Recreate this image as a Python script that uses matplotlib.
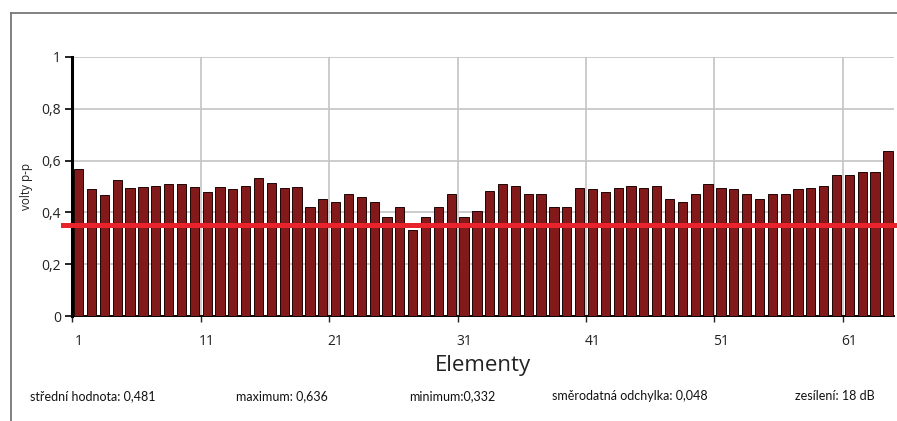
import numpy as np
import matplotlib
matplotlib.use('Agg')
import matplotlib.pyplot as plt
from matplotlib.ticker import FixedLocator, FuncFormatter

# napětí na jednotlivých elementech sondy (volty p-p)
elements = np.arange(1, 65)
voltage = [
    0.566, 0.489, 0.466, 0.526, 0.493, 0.498, 0.503, 0.511, 0.511, 0.498,
    0.479, 0.498, 0.489, 0.503, 0.534, 0.515, 0.493, 0.498, 0.422, 0.453,
    0.441, 0.470, 0.459, 0.441, 0.383, 0.422, 0.332, 0.383, 0.422, 0.470,
    0.383, 0.405, 0.481, 0.511, 0.503, 0.470, 0.470, 0.422, 0.422, 0.493,
    0.489, 0.477, 0.493, 0.503, 0.493, 0.502, 0.453, 0.441, 0.470, 0.511,
    0.493, 0.489, 0.470, 0.453, 0.470, 0.470, 0.489, 0.493, 0.503, 0.546,
    0.546, 0.556, 0.556, 0.636,
]
threshold = 0.353

yticks = [0, 0.2, 0.4, 0.6, 0.8, 1.0]
xtick_labels = [1, 11, 21, 31, 41, 51, 61]
stats = [
    'střední hodnota: 0,481',
    'maximum: 0,636',
    'minimum:0,332',
    'směrodatná odchylka: 0,048',
    'zesílení: 18 dB',
]
stats_x = [30, 236, 409, 552, 795]

plt.rcParams['font.family'] = ['Open Sans', 'DejaVu Sans']

fig = plt.figure(figsize=(8.97, 4.21), dpi=100)
ax = fig.add_axes([72.3 / 897, 1 - 316 / 421, (894.3 - 72.3) / 897, (316 - 57) / 421])

# rámeček kolem celého grafu (vpravo a dole mimo obrázek)
fig.add_artist(plt.Line2D([10.5 / 897, 10.5 / 897], [0, 1 - 12.7 / 421],
                          color='#777777', lw=1.3, transform=fig.transFigure))
fig.add_artist(plt.Line2D([10.5 / 897, 1], [1 - 12.7 / 421, 1 - 12.7 / 421],
                          color='#777777', lw=1.3, transform=fig.transFigure))

ax.bar(elements, voltage, width=0.72, color='#821a1c', edgecolor='#1e0404',
       linewidth=0.7, zorder=3)

# mřížka na hranicích kategorií
ax.set_xlim(0.5, 64.5)
ax.set_ylim(0, 1)
ax.xaxis.set_major_locator(FixedLocator([k - 0.5 for k in xtick_labels]))
ax.xaxis.set_minor_locator(FixedLocator(xtick_labels))
ax.xaxis.set_major_formatter(FuncFormatter(lambda v, p: ''))
ax.xaxis.set_minor_formatter(FuncFormatter(lambda v, p: f'{int(v)}'))
ax.tick_params(axis='x', which='major', length=4, width=1, color='#222222', direction='out')
ax.tick_params(axis='x', which='minor', length=0, pad=13, labelsize=10, labelcolor='#222222')
ax.set_yticks(yticks)
ax.set_yticklabels([f'{v:g}'.replace('.', ',') for v in yticks])
ax.tick_params(axis='y', length=5, width=1.2, direction='out', labelsize=10,
               labelcolor='#222222', pad=3)

ax.grid(True, which='major', color='#c4c4c4', lw=1.2, zorder=0)
for side in ('top', 'right'):
    ax.spines[side].set_visible(False)
ax.spines['left'].set_linewidth(2.2)
ax.spines['bottom'].set_linewidth(1.4)
ax.spines['left'].set_zorder(5)

# hranice (červená čára) přes celou šířku
ax.plot([-0.011, 1.01], [threshold, threshold], color='#e8232b', lw=3.6,
        transform=ax.get_yaxis_transform(), clip_on=False, zorder=6)

ax.set_ylabel('volty p-p', fontsize=8.5, labelpad=6.5, color='#222222')
ax.set_xlabel('Elementy', fontsize=16, labelpad=4, color='#222222')

for txt, x in zip(stats, stats_x):
    fig.text(x / 897, 1 - 396 / 421, txt, fontsize=9, color='#111111',
             family=['Lato', 'DejaVu Sans'], va='center', ha='left')

fig.savefig('out.png', dpi=100)
